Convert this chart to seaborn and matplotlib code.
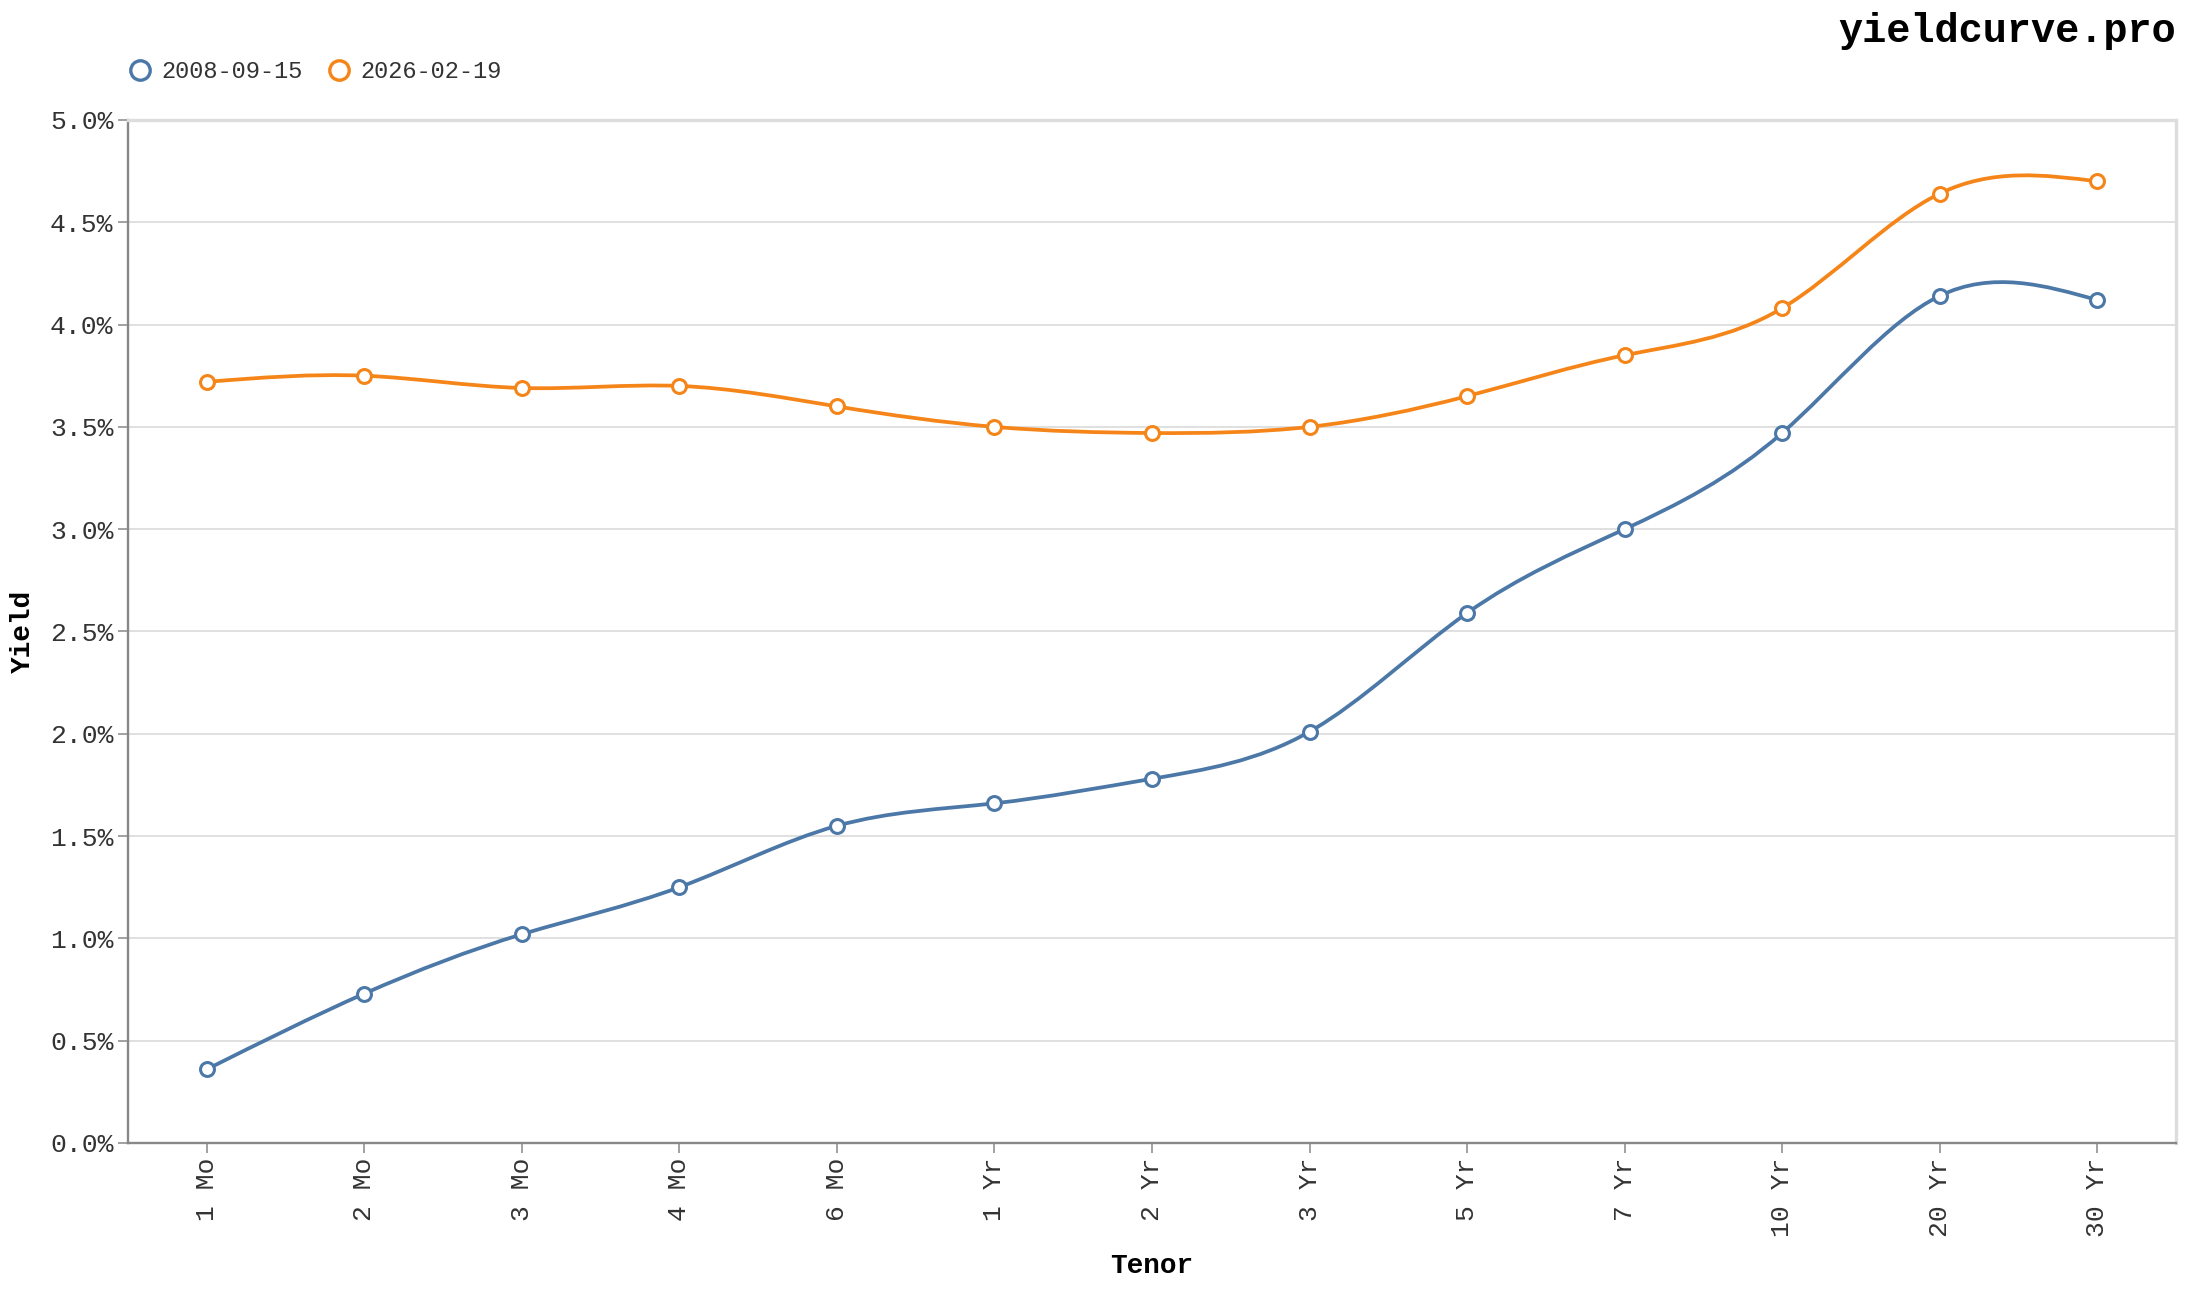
import numpy as np
import pandas as pd
import matplotlib
matplotlib.use("Agg")
import matplotlib.pyplot as plt
import seaborn as sns
from matplotlib.path import Path
from matplotlib.patches import PathPatch
from matplotlib.lines import Line2D
from matplotlib.ticker import FuncFormatter, MultipleLocator

# --- data -------------------------------------------------------------
tenors = ["1 Mo", "2 Mo", "3 Mo", "4 Mo", "6 Mo", "1 Yr", "2 Yr",
          "3 Yr", "5 Yr", "7 Yr", "10 Yr", "20 Yr", "30 Yr"]
dates = ["2008-09-15", "2026-02-19"]
yield_2008 = [0.36, 0.73, 1.02, 1.25, 1.55, 1.66, 1.78,
              2.01, 2.59, 3.00, 3.47, 4.14, 4.12]
yield_2026 = [3.72, 3.75, 3.69, 3.70, 3.60, 3.50, 3.47,
              3.50, 3.65, 3.85, 4.08, 4.64, 4.70]
colors = ["#4c78a8", "#f58518"]

MONO = ["Liberation Mono", "DejaVu Sans Mono"]


def natural_curve(y):
    """Natural cubic spline through the points, as a bezier Path (x = 0..n)."""
    y = np.asarray(y, float)
    n = len(y) - 1
    A = np.zeros((n + 1, n + 1))
    b = np.zeros(n + 1)
    A[0, 0] = A[n, n] = 1
    for i in range(1, n):
        A[i, i - 1], A[i, i], A[i, i + 1] = 1, 4, 1
        b[i] = 6 * (y[i - 1] - 2 * y[i] + y[i + 1])
    M = np.linalg.solve(A, b)
    d = np.empty(n + 1)
    d[:n] = (y[1:] - y[:-1]) - (2 * M[:-1] + M[1:]) / 6
    d[n] = (y[n] - y[n - 1]) + (M[n - 1] + 2 * M[n]) / 6
    verts = [(0, y[0])]
    codes = [Path.MOVETO]
    for i in range(n):
        verts += [(i + 1 / 3, y[i] + d[i] / 3),
                  (i + 2 / 3, y[i + 1] - d[i + 1] / 3),
                  (i + 1, y[i + 1])]
        codes += [Path.CURVE4] * 3
    return Path(verts, codes)


sns.set_theme(style="white")
plt.rcParams["font.family"] = MONO

fig = plt.figure(figsize=(21.86, 12.9), dpi=100)
ax = fig.add_axes([0.0586, 0.114, 0.9368, 0.793])

series = {dates[0]: yield_2008, dates[1]: yield_2026}
handles = []
for (label, vals), col in zip(series.items(), colors):
    df = pd.DataFrame({"Tenor": tenors, "Yield": vals})
    ax.add_patch(PathPatch(natural_curve(vals), facecolor="none",
                           edgecolor=col, lw=2.7, zorder=2))
    sns.scatterplot(data=df, x="Tenor", y="Yield", ax=ax, s=100,
                    facecolor="white", edgecolor=col, linewidth=2.2,
                    zorder=3, legend=False)
    handles.append(Line2D([], [], ls="none", marker="o", ms=14,
                          mfc="white", mec=col, mew=2.4, label=label))

ax.set_xlim(-0.5, len(tenors) - 0.5)
ax.set_ylim(0, 5)
ax.yaxis.set_major_locator(MultipleLocator(0.5))
ax.yaxis.set_major_formatter(FuncFormatter(lambda v, p: f"{v:.1f}%"))
ax.set_xticks(range(len(tenors)))
ax.set_xticklabels(tenors, rotation=90)

ax.yaxis.grid(True, color="#dddddd", lw=1.3)
ax.set_axisbelow(True)

for side in ["top", "right"]:
    ax.spines[side].set_color("#dddddd")
    ax.spines[side].set_linewidth(2.4)
for side in ["left", "bottom"]:
    ax.spines[side].set_color("#888888")
    ax.spines[side].set_linewidth(1.7)

ax.tick_params(axis="both", which="major", length=7, width=1.1,
               color="#888888", labelcolor="#333333", labelsize=19,
               direction="out", bottom=True, left=True, pad=3.5)

ax.set_xlabel("Tenor", fontsize=20, fontweight="bold", color="#000000")
ax.set_ylabel("Yield", fontsize=20, fontweight="bold", color="#000000")
ax.xaxis.set_label_coords(0.5, -0.108)
ax.yaxis.set_label_coords(-0.045, 0.5)

fig.legend(handles=handles, loc="center left",
           bbox_to_anchor=(128 / 2186, 1 - 72 / 1290), ncol=2, frameon=False,
           fontsize=17, handletextpad=0.4, columnspacing=1.06,
           handlelength=1.0, borderpad=0, borderaxespad=0,
           labelcolor="#333333")

fig.text(0.9954, 1 - 31 / 1290, "yieldcurve.pro", ha="right", va="center",
         fontsize=29, fontweight="bold", color="#000000")

fig.savefig("out.png", dpi=100)
